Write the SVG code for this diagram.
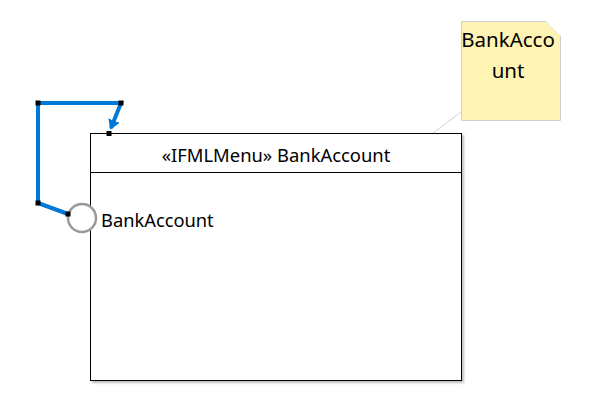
<svg xmlns="http://www.w3.org/2000/svg" width="595" height="415" viewBox="0 0 595 415">
<style>
text{font-family:"Noto Sans","Open Sans","Liberation Sans",sans-serif;font-size:18px;fill:#000}
.nt{font-size:20.5px}
.conn{fill:none;stroke:#0078d7;stroke-width:4;stroke-linejoin:miter}
</style>
<defs>
<marker id="ah" markerWidth="12" markerHeight="12" refX="8" refY="6" orient="auto" markerUnits="userSpaceOnUse">
<path d="M0,0 L10,6 L0,12 Z" fill="#0078d7"/>
</marker>
<filter id="sh" x="-5%" y="-5%" width="110%" height="110%">
<feDropShadow dx="2" dy="2" stdDeviation="1" flood-color="#000" flood-opacity="0.25"/>
</filter>
</defs>
<g id="note">
<line x1="461" y1="112" x2="433" y2="133" stroke="#d0d0d0" stroke-width="1"/>
<path d="M461.5,21.5 H546 L560.5,36 V120.5 H461.5 Z" fill="#fff4b3" stroke="#d0d0d0"/>
<path d="M546,21.5 H560.5 V36 Z" fill="#fff"/>
<text class="nt" x="508" y="47" text-anchor="middle">BankAcco</text>
<text class="nt" x="508" y="78" text-anchor="middle">unt</text>
</g>
<g id="menu">
<rect x="90.5" y="133.5" width="371" height="247" fill="#fff" stroke="#000" filter="url(#sh)"/>
<line x1="90.5" y1="172.5" x2="461.5" y2="172.5" stroke="#000"/>
<text x="276" y="162" text-anchor="middle" style="font-size:18.4px">«IFMLMenu» BankAccount</text>
</g>
<g id="event">
<circle cx="82" cy="218" r="14" fill="#fff" stroke="#999" stroke-width="2.5"/>
<text x="101" y="227" style="font-size:18.3px">BankAccount</text>
</g>
<g id="connectors">
<polyline class="conn" points="68,214 38,203 38,103 121,103 111,128" marker-end="url(#ah)"/>
<rect x="35.5" y="100.5" width="5" height="5" fill="#000"/>
<rect x="118.5" y="100.5" width="5" height="5" fill="#000"/>
<rect x="35.5" y="200.5" width="5" height="5" fill="#000"/>
<rect x="65.5" y="211.5" width="5" height="5" fill="#000"/>
<rect x="106.5" y="131" width="5" height="5" fill="#000"/>
</g>
</svg>
